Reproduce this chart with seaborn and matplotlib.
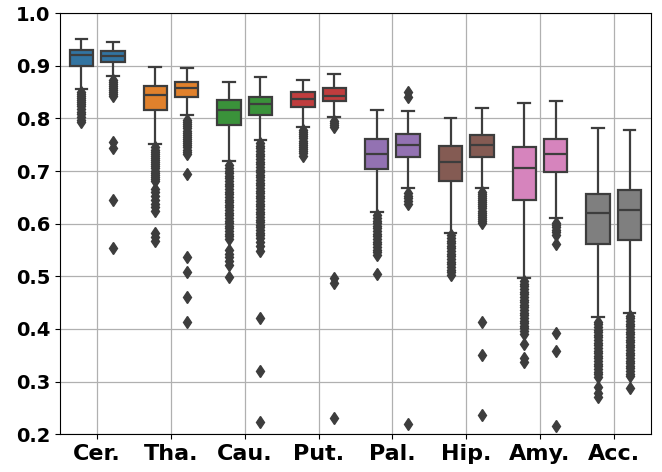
import numpy as np
import pandas as pd
import matplotlib
matplotlib.use("Agg")
import matplotlib.pyplot as plt
import seaborn as sns

regions = ["Cer.", "Tha.", "Cau.", "Put.", "Pal.", "Hip.", "Amy.", "Acc."]
methods = ["model_a", "model_b"]

# box summaries, left box of each pair
a_whislo = [0.856, 0.752, 0.719, 0.784, 0.622, 0.582, 0.496, 0.423]
a_q1 = [0.900, 0.816, 0.787, 0.822, 0.704, 0.681, 0.645, 0.561]
a_med = [0.921, 0.845, 0.817, 0.837, 0.733, 0.717, 0.706, 0.621]
a_q3 = [0.931, 0.862, 0.836, 0.850, 0.761, 0.748, 0.746, 0.657]
a_whishi = [0.951, 0.897, 0.870, 0.874, 0.817, 0.800, 0.830, 0.781]

# right box of each pair
b_whislo = [0.881, 0.806, 0.759, 0.802, 0.667, 0.667, 0.611, 0.430]
b_q1 = [0.907, 0.841, 0.806, 0.833, 0.726, 0.726, 0.698, 0.570]
b_med = [0.918, 0.857, 0.827, 0.843, 0.749, 0.749, 0.732, 0.626]
b_q3 = [0.928, 0.869, 0.840, 0.857, 0.770, 0.768, 0.761, 0.665]
b_whishi = [0.945, 0.895, 0.878, 0.885, 0.814, 0.819, 0.833, 0.778]

a_outliers = [
    [0.851, 0.847, 0.843, 0.839, 0.835, 0.831, 0.827, 0.823, 0.818, 0.813,
     0.808, 0.803, 0.798, 0.794],
    [0.745, 0.741, 0.737, 0.733, 0.729, 0.725, 0.721, 0.717, 0.713, 0.709,
     0.705, 0.701, 0.697, 0.693, 0.689, 0.685, 0.681, 0.666, 0.660, 0.652,
     0.645, 0.638, 0.631, 0.624, 0.582, 0.575, 0.568],
    [0.711, 0.706, 0.701, 0.696, 0.691, 0.686, 0.681, 0.676, 0.671, 0.666,
     0.661, 0.656, 0.651, 0.646, 0.641, 0.636, 0.631, 0.626, 0.621, 0.616,
     0.611, 0.606, 0.601, 0.596, 0.591, 0.586, 0.581, 0.576, 0.571, 0.550,
     0.543, 0.536, 0.529, 0.522, 0.498],
    [0.778, 0.774, 0.770, 0.766, 0.762, 0.758, 0.754, 0.750, 0.746, 0.742,
     0.738, 0.734, 0.729],
    [0.616, 0.611, 0.606, 0.601, 0.596, 0.591, 0.586, 0.581, 0.576, 0.571,
     0.566, 0.561, 0.556, 0.551, 0.546, 0.540, 0.505],
    [0.578, 0.573, 0.568, 0.563, 0.558, 0.553, 0.548, 0.543, 0.538, 0.533,
     0.528, 0.523, 0.518, 0.513, 0.508, 0.503],
    [0.491, 0.486, 0.481, 0.476, 0.471, 0.466, 0.461, 0.456, 0.451, 0.446,
     0.441, 0.436, 0.431, 0.426, 0.421, 0.416, 0.411, 0.406, 0.401, 0.396,
     0.391, 0.372, 0.345, 0.338],
    [0.414, 0.409, 0.404, 0.399, 0.394, 0.389, 0.384, 0.379, 0.374, 0.369,
     0.364, 0.359, 0.354, 0.349, 0.344, 0.339, 0.334, 0.329, 0.324, 0.319,
     0.314, 0.309, 0.290, 0.278, 0.270],
]
b_outliers = [
    [0.874, 0.870, 0.866, 0.862, 0.858, 0.854, 0.850, 0.846, 0.842, 0.755,
     0.744, 0.645, 0.553],
    [0.797, 0.793, 0.789, 0.785, 0.781, 0.777, 0.773, 0.769, 0.765, 0.761,
     0.757, 0.753, 0.749, 0.745, 0.741, 0.737, 0.733, 0.695, 0.536, 0.508,
     0.461, 0.413],
    [0.753, 0.748, 0.743, 0.738, 0.733, 0.728, 0.723, 0.718, 0.713, 0.708,
     0.703, 0.698, 0.693, 0.688, 0.683, 0.678, 0.673, 0.668, 0.663, 0.658,
     0.653, 0.648, 0.643, 0.638, 0.633, 0.628, 0.623, 0.618, 0.613, 0.608,
     0.603, 0.598, 0.593, 0.588, 0.583, 0.578, 0.573, 0.566, 0.558, 0.549,
     0.420, 0.320, 0.223],
    [0.795, 0.791, 0.787, 0.783, 0.497, 0.487, 0.230],
    [0.850, 0.840, 0.658, 0.653, 0.648, 0.643, 0.638, 0.220],
    [0.661, 0.657, 0.653, 0.649, 0.645, 0.641, 0.637, 0.633, 0.629, 0.625,
     0.621, 0.617, 0.613, 0.609, 0.605, 0.601, 0.413, 0.350, 0.236],
    [0.601, 0.597, 0.593, 0.589, 0.585, 0.578, 0.562, 0.393, 0.358, 0.216],
    [0.425, 0.420, 0.415, 0.410, 0.405, 0.400, 0.395, 0.390, 0.385, 0.380,
     0.375, 0.370, 0.365, 0.360, 0.355, 0.350, 0.345, 0.340, 0.335, 0.330,
     0.325, 0.320, 0.315, 0.310, 0.287],
]


def box_sample(lo, q1, med, q3, hi, outliers):
    # repeat the quartiles so np.percentile lands exactly on them
    m = 4 * (len(outliers) + 2)
    return [lo] + [q1] * m + [med] * m + [q3] * m + [hi] + list(outliers)


rows = []
summaries = {
    "model_a": (a_whislo, a_q1, a_med, a_q3, a_whishi, a_outliers),
    "model_b": (b_whislo, b_q1, b_med, b_q3, b_whishi, b_outliers),
}
for method, (lo, q1, med, q3, hi, outs) in summaries.items():
    for i, region in enumerate(regions):
        for v in box_sample(lo[i], q1[i], med[i], q3[i], hi[i], outs[i]):
            rows.append({"region": region, "method": method, "dice": v})
df = pd.DataFrame(rows)

line_color = "#3d3d3d"
box_colors = [sns.desaturate(c, 0.75) for c in sns.color_palette("tab10", 8)]

fig, ax = plt.subplots(figsize=(6.62, 4.72), dpi=100)
fig.subplots_adjust(left=0.091, right=0.983, bottom=0.08, top=0.972)

sns.boxplot(data=df, x="region", y="dice", hue="method", order=regions,
            hue_order=methods, width=0.85, gap=0.25, linewidth=1.6,
            linecolor=line_color, fliersize=6, legend=False, ax=ax,
            flierprops=dict(marker="d", markerfacecolor=line_color,
                            markeredgecolor=line_color))

# colour each pair by its region
for patch in ax.patches:
    verts = patch.get_path().vertices
    idx = int(round(verts[:, 0].mean()))
    patch.set_facecolor(box_colors[idx])

ax.set_ylim(0.2, 1.0)
ax.set_yticks([0.2, 0.3, 0.4, 0.5, 0.6, 0.7, 0.8, 0.9, 1.0])
ax.grid(True, color="#b0b0b0", linewidth=0.9)
ax.set_axisbelow(True)
ax.set_xlabel("")
ax.set_ylabel("")
for lab in ax.get_xticklabels():
    lab.set_fontsize(16)
    lab.set_fontweight("bold")
for lab in ax.get_yticklabels():
    lab.set_fontsize(14)
    lab.set_fontweight("bold")

plt.savefig("out.png", dpi=100)
